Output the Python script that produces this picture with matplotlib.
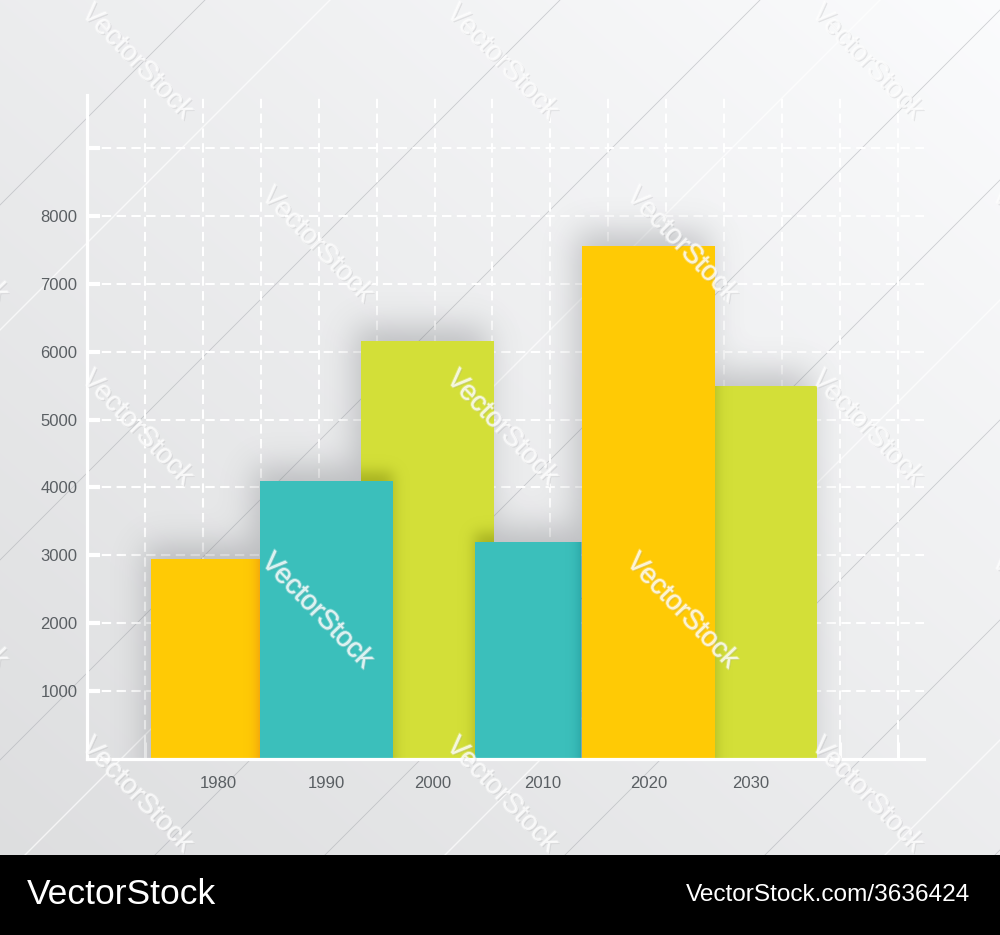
import numpy as np
import matplotlib
matplotlib.use('Agg')
import matplotlib.pyplot as plt
from matplotlib.patches import Rectangle
import matplotlib.patheffects as pe

# ---------------- data ----------------
years = ['1980', '1990', '2000', '2010', '2020', '2030']
values = [2950, 4100, 6150, 3200, 7550, 5500]
y_ticks = [1000, 2000, 3000, 4000, 5000, 6000, 7000, 8000, 9000]
y_labels = ['1000', '2000', '3000', '4000', '5000', '6000', '7000', '8000', '']

# ---------------- layout / style ----------------
bar_left = [1.105, 2.987, 4.731, 6.699, 8.546, 10.842]
bar_width = [1.882, 2.296, 2.296, 1.830, 2.296, 1.761]
label_pos = [2.26, 4.13, 5.97, 7.86, 9.69, 11.45]
layer = [0, 1, 0, 1, 2, 0]
colors = ['#FFCA05', '#3BBFBB', '#D3DF38', '#3BBFBB', '#FFCA05', '#D3DF38']
shade = [(0.88, 0.42, 0.10), (0.04, 0.48, 0.50), (0.60, 0.64, 0.10),
         (0.04, 0.48, 0.50), (0.88, 0.42, 0.10), (0.60, 0.64, 0.10)]
XMAX, YMAX = 14.45, 9780
FONT = ['Liberation Sans', 'DejaVu Sans']
label_color = '#5a5f63'

FW, FH = 1000, 935
fig = plt.figure(figsize=(FW / 100, FH / 100), dpi=100)

# ---------------- background ----------------
bg = fig.add_axes([0, 0, 1, 1], zorder=-10)
bg.set_xlim(0, FW)
bg.set_ylim(FH, 0)
bg.axis('off')
yy, xx = np.mgrid[0:FH, 0:FW]
t = (xx / FW + (1 - yy / 855.0)) / 2
v = np.clip(0.868 + 0.115 * t, 0, 1)
bgimg = np.dstack([v, np.clip(v + 0.003, 0, 1), np.clip(v + 0.008, 0, 1)])
bg.imshow(bgimg, extent=(0, FW, FH, 0), aspect='auto', interpolation='bilinear')
for c in [205, 560, 760, 1010, 1180, 1420, 1620, 1850]:
    bg.plot([0, c], [c, 0], color=(0.66, 0.67, 0.69), lw=0.6, alpha=0.55)
for c in [330, 880, 1300, 1740]:
    bg.plot([0, c], [c, 0], color='white', lw=1.0, alpha=0.7)

# ---------------- main axes ----------------
ax = fig.add_axes([0.087, 0.18824, 0.837, 0.71016])
ax.set_facecolor('none')
ax.set_xlim(0, XMAX)
ax.set_ylim(0, YMAX)
for s in ['top', 'right']:
    ax.spines[s].set_visible(False)
for s in ['left', 'bottom']:
    ax.spines[s].set_color('white')
    ax.spines[s].set_linewidth(2.3)
    ax.spines[s].set_zorder(10)

ax.set_yticks(y_ticks)
ax.set_yticklabels(y_labels)
ax.set_xticks(label_pos)
ax.set_xticklabels(years)
ax.set_xticks(np.arange(1, 15), minor=True)
ax.tick_params(axis='y', which='major', direction='in', length=9, width=3,
               color='white', pad=7, labelsize=12, labelcolor=label_color)
ax.tick_params(axis='x', which='major', length=0, pad=12, labelsize=12,
               labelcolor=label_color)
ax.tick_params(axis='x', which='minor', direction='in', length=12, width=2.2,
               color='white')
for lab in ax.get_xticklabels() + ax.get_yticklabels():
    lab.set_family(FONT)
ax.grid(which='minor', axis='x', color='white', lw=1.5, ls=(0, (4.5, 2.6)), zorder=0.5)
ax.grid(which='major', axis='y', color='white', lw=1.5, ls=(0, (4.5, 2.6)), zorder=0.5)
ax.set_axisbelow(True)

# ---------------- bars ----------------
patches = []
for i in range(len(values)):
    b = ax.bar(bar_left[i], values[i], width=bar_width[i], align='edge',
               color=colors[i], zorder=2 + layer[i], linewidth=0)
    patches.append(b.patches[0])

# ---------------- shadows (derived from bar geometry) ----------------
W = int(round(0.837 * FW))
H = int(round(0.71016 * FH))
P = 80


def gauss_blur(a, sigma):
    r = int(3 * sigma)
    k = np.exp(-0.5 * (np.arange(-r, r + 1) / sigma) ** 2)
    k /= k.sum()
    a = np.apply_along_axis(lambda m: np.convolve(m, k, mode='same'), 1, a)
    a = np.apply_along_axis(lambda m: np.convolve(m, k, mode='same'), 0, a)
    return a


def bar_mask(idx, dx, dy):
    m = np.zeros((H + 2 * P, W + 2 * P))
    for i in idx:
        c0 = bar_left[i] / XMAX * W + dx + P
        c1 = (bar_left[i] + bar_width[i]) / XMAX * W + dx + P
        r0 = (1 - values[i] / YMAX) * H + dy + P
        m[int(round(r0)):, int(round(c0)):int(round(c1))] = 1
    return m


def rgba(color, alpha):
    img = np.zeros(alpha.shape + (4,))
    img[..., :3] = color
    img[..., 3] = np.clip(alpha, 0, 1)
    return img


ext = (0, XMAX, 0, YMAX)
sh = gauss_blur(bar_mask(range(len(values)), -6, -14), 16)[P:P + H, P:P + W]
ax.imshow(rgba((0.36, 0.37, 0.39), 0.32 * sh), extent=ext, aspect='auto',
          origin='upper', zorder=1.5, interpolation='bilinear')

for L in [0, 1]:
    front = [i for i in range(len(values)) if layer[i] > L]
    cs = gauss_blur(bar_mask(front, 0, -9), 7)[P:P + H, P:P + W]
    for i in range(len(values)):
        if layer[i] != L:
            continue
        im = ax.imshow(rgba(shade[i], 0.75 * cs), extent=ext, aspect='auto',
                       origin='upper', zorder=2 + L + 0.5, interpolation='bilinear')
        im.set_clip_path(patches[i])
ax.set_xlim(0, XMAX)
ax.set_ylim(0, YMAX)

# ---------------- watermarks ----------------
wm_rows = [62, 245, 428, 611, 795]
for r, yp in enumerate(wm_rows):
    xs = [137, 502, 867] if r % 2 == 0 else [-48, 317, 682, 1047]
    for xp in xs:
        fig.text(xp / FW, 1 - yp / FH, 'VectorStock', rotation=-46,
                 ha='center', va='center', fontsize=20, family=FONT,
                 color=(1, 1, 1, 0.4), zorder=3,
                 path_effects=[pe.withSimplePatchShadow(offset=(0.8, -0.8),
                                                        shadow_rgbFace=(0.45, 0.45, 0.47),
                                                        alpha=0.2),
                               pe.withStroke(linewidth=1.4,
                                             foreground=(1, 1, 1, 0.3))])

# ---------------- bottom banner ----------------
fig.add_artist(Rectangle((0, 0), 1, 80 / FH, transform=fig.transFigure,
                         facecolor='black', edgecolor='none', zorder=5))
fig.text(27 / FW, 1 - 895 / FH, 'VectorStock', ha='left', va='center',
         fontsize=25.5, color='white', family=FONT, zorder=6)
fig.text(970 / FW, 1 - 895 / FH, 'VectorStock.com/3636424', ha='right',
         va='center', fontsize=17.6, color='white', family=FONT, zorder=6)

fig.savefig('out.png', dpi=100)
